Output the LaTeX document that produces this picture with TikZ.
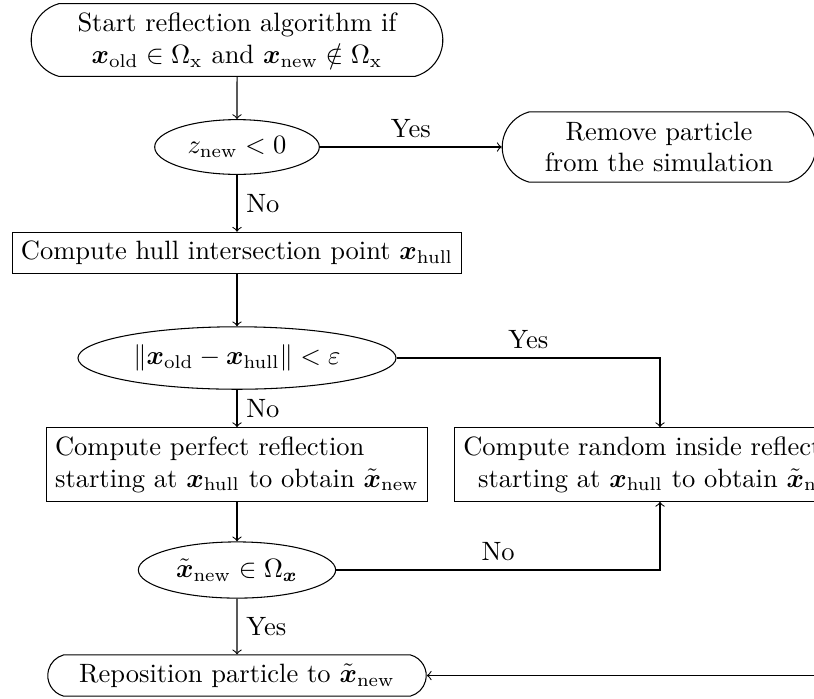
\documentclass[tikz,border=0pt]{standalone}
\usepackage{amsmath}
\usetikzlibrary{shapes.geometric,shapes.misc,arrows}

\tikzset{
  terminal/.style={draw, rounded rectangle, rounded rectangle arc length=150, align=center},
  process/.style={draw, rectangle},
  decision/.style={draw, ellipse},
  flow/.style={->},
}

\begin{document}
\begin{tikzpicture}[x=0.3774pt, y=-0.3774pt]
  % page frame
  \useasboundingbox (0,0) rectangle (814,698);
  \clip (0,0) rectangle (814,698);

  % nodes
  \node[terminal, minimum width=162pt, minimum height=27.5pt] (start) at (237,40)
    {Start reflection algorithm if\\
     $\boldsymbol{x}_{\mathrm{old}}\in\Omega_{\mathrm{x}}$ and
     $\boldsymbol{x}_{\mathrm{new}}\notin\Omega_{\mathrm{x}}$};
  \node[decision] (zneg) at (237,147) {$z_{\mathrm{new}}<0$};
  \node[terminal, minimum width=125pt, minimum height=26.5pt] (remove) at (659,147)
    {Remove particle\\from the simulation};
  \node[process] (hull) at (237,253)
    {Compute hull intersection point $\boldsymbol{x}_{\mathrm{hull}}$};
  \node[decision] (dist) at (237,358)
    {$\lVert\boldsymbol{x}_{\mathrm{old}}-\boldsymbol{x}_{\mathrm{hull}}\rVert<\varepsilon$};
  \node[process, align=left] (perf) at (237,464.5)
    {Compute perfect reflection\\
     starting at $\boldsymbol{x}_{\mathrm{hull}}$ to obtain $\tilde{\boldsymbol{x}}_{\mathrm{new}}$};
  \node[process, align=center] (rand) at (660,464.5)
    {Compute random inside reflection\\
     starting at $\boldsymbol{x}_{\mathrm{hull}}$ to obtain $\tilde{\boldsymbol{x}}_{\mathrm{new}}$};
  \node[decision] (inside) at (237,570)
    {$\tilde{\boldsymbol{x}}_{\mathrm{new}}\in\Omega_{\boldsymbol{x}}$};
  \node[terminal, minimum width=149.5pt] (repos) at (237,675.5)
    {Reposition particle to $\tilde{\boldsymbol{x}}_{\mathrm{new}}$};

  % connectors
  \draw[flow] (start) -- (zneg);
  \draw[flow] (zneg) -- node[above] {Yes} (remove);
  \draw[flow] (zneg) -- node[right] {No} (hull);
  \draw[flow] (hull) -- (dist);
  \draw[flow] (dist) -| node[pos=0.25, above] {Yes} (rand);
  \draw[flow] (dist) -- node[right] {No} (perf);
  \draw[flow] (perf) -- (inside);
  \draw[flow] (inside) -| node[pos=0.25, above] {No} (rand);
  \draw[flow] (inside) -- node[right] {Yes} (repos);
  \draw[flow] (rand.east) -- ++(20,0) |- (repos.east);
\end{tikzpicture}
\end{document}
